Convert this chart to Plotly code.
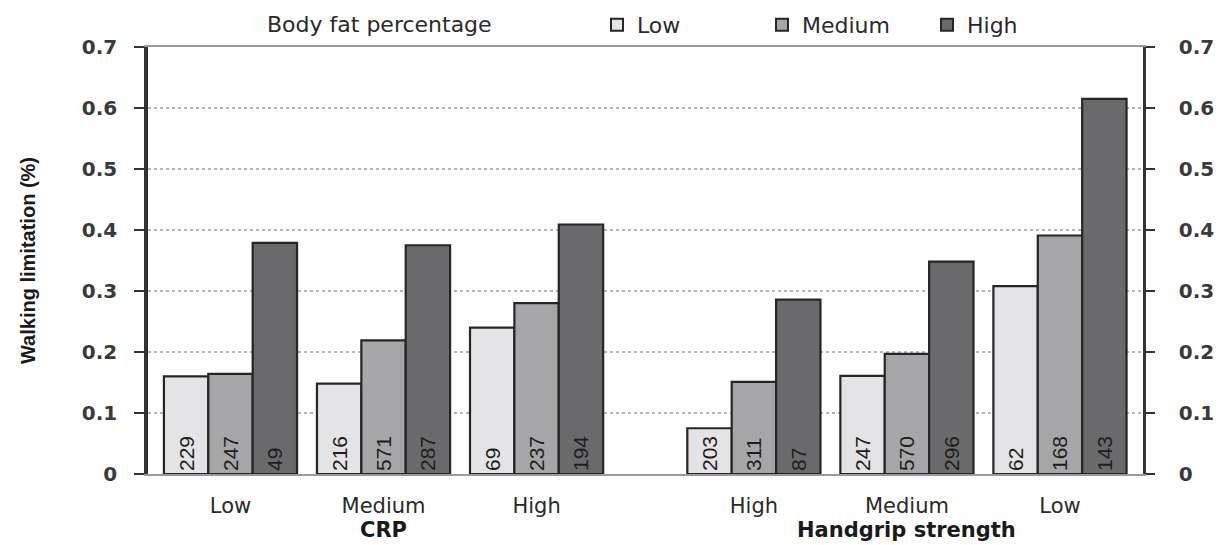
import plotly.graph_objects as go

# ---- data ----
groups = ["CRP", "Handgrip strength"]
levels_crp = ["Low", "Medium", "High"]
levels_hgs = ["High", "Medium", "Low"]
series_names = ["Low", "Medium", "High"]  # body fat percentage
legend_title = "Body fat percentage"

low_vals = [0.160, 0.148, 0.240, 0.075, 0.161, 0.308]
medium_vals = [0.164, 0.219, 0.280, 0.151, 0.197, 0.391]
high_vals = [0.379, 0.375, 0.409, 0.286, 0.348, 0.615]

low_n = [229, 216, 69, 203, 247, 62]
medium_n = [247, 571, 237, 311, 570, 168]
high_n = [49, 287, 194, 87, 296, 143]

y_ticks = [0, 0.1, 0.2, 0.3, 0.4, 0.5, 0.6, 0.7]
y_ticktext = ["0", "0.1", "0.2", "0.3", "0.4", "0.5", "0.6", "0.7"]

# ---- layout helpers ----
GAP = 0.42  # extra space between the two factor groups
cat_labels = levels_crp + levels_hgs
xpos = [i + (GAP if i >= 3 else 0) for i in range(len(cat_labels))]

colors = ["#e4e4e6", "#a6a6a9", "#6a6a6c"]
W = 0.29
offsets = [-1.5 * W, -0.5 * W, 0.5 * W]

NARROW = "Liberation Sans Narrow, Liberation Sans, Arial, sans-serif"
WIDE = "DejaVu Sans, Verdana, sans-serif"

# the page body has an 8px margin: compensate so the plot area sits at 148..1143 x 47..474
FW, FH = 1221, 537
PL, PR, PT, PB = 148, 1143, 47, 474  # target plot-area edges in page pixels


def px_to_paper_x(px):
    return (px - PL) / (PR - PL)


def px_to_paper_y(py):
    return (PB - py) / (PB - PT)


fig = go.Figure()
for name, vals, ns, col, off in zip(series_names, [low_vals, medium_vals, high_vals],
                                    [low_n, medium_n, high_n], colors, offsets):
    fig.add_trace(go.Bar(
        name=name, x=xpos, y=vals, width=W, offset=off,
        marker=dict(color=col, line=dict(color="#262626", width=2.2)),
        text=[str(n) for n in ns], textposition="inside", insidetextanchor="start",
        textangle=-90, constraintext="none",
        insidetextfont=dict(family=NARROW, size=21, color="#1e1e1e"),
        cliponaxis=False, hoverinfo="skip",
    ))

# invisible helper to make the right axis render
fig.add_trace(go.Scatter(x=[xpos[0]], y=[0], yaxis="y2", mode="markers",
                         marker=dict(opacity=0), showlegend=False, hoverinfo="skip"))

tick_font = dict(family=WIDE, size=20, color="#3a3a3a", weight="bold")

fig.update_layout(
    width=FW, height=FH,
    margin=dict(l=PL - 8, r=FW + 8 - PR, t=PT - 8, b=FH + 8 - PB, autoexpand=False),
    plot_bgcolor="white", paper_bgcolor="white",
    barmode="overlay",
    showlegend=True,
    legend=dict(
        orientation="h", x=px_to_paper_x(597), xanchor="left",
        y=px_to_paper_y(25), yanchor="middle",
        font=dict(family=WIDE, size=22, color="#2a2a2a"),
        entrywidth=120, entrywidthmode="pixels",
        itemsizing="constant", traceorder="normal", bgcolor="rgba(0,0,0,0)",
    ),
    xaxis=dict(
        range=[-0.539, 5.9625], tickvals=xpos, ticktext=cat_labels,
        tickfont=dict(family=WIDE, size=21, color="#2a2a2a"),
        showline=True, linecolor="#9a9a9a", linewidth=1.5, mirror=True,
        showgrid=False, zeroline=False, ticks="", ticklabelstandoff=12,
        automargin=False,
    ),
    yaxis=dict(
        range=[0, 0.7], tickvals=y_ticks, ticktext=y_ticktext,
        tickfont=tick_font, ticks="outside", ticklen=10, tickwidth=2, tickcolor="#333",
        showline=True, linecolor="#333", linewidth=3.5,
        showgrid=True, gridcolor="#b5b5b5", griddash="dot", gridwidth=1.5,
        zeroline=False, ticklabelstandoff=13, automargin=False,
        title=dict(text="<b>Walking limitation (%)</b>", standoff=42,
                   font=dict(family=NARROW, size=20, color="#1a1a1a")),
    ),
    yaxis2=dict(
        range=[0, 0.7], tickvals=y_ticks, ticktext=y_ticktext, overlaying="y", side="right",
        tickfont=tick_font, ticks="outside", ticklen=9, tickwidth=2, tickcolor="#333",
        showline=True, linecolor="#333", linewidth=2.5, showgrid=False, zeroline=False,
        ticklabelstandoff=20, automargin=False,
    ),
)

# legend heading
fig.add_annotation(x=px_to_paper_x(265), xref="paper", xanchor="left",
                   y=px_to_paper_y(25), yref="paper", yanchor="middle",
                   text=legend_title, showarrow=False,
                   font=dict(family=WIDE, size=22, color="#2a2a2a"))

# factor group titles
centers = [sum(xpos[0:3]) / 3, sum(xpos[3:6]) / 3]
for g, c in zip(groups, centers):
    fig.add_annotation(x=c, xref="x", y=px_to_paper_y(530), yref="paper",
                       text="<b>" + g + "</b>", showarrow=False, yanchor="middle",
                       font=dict(family=WIDE, size=21, color="#1a1a1a"))

fig.write_html("out.html")
